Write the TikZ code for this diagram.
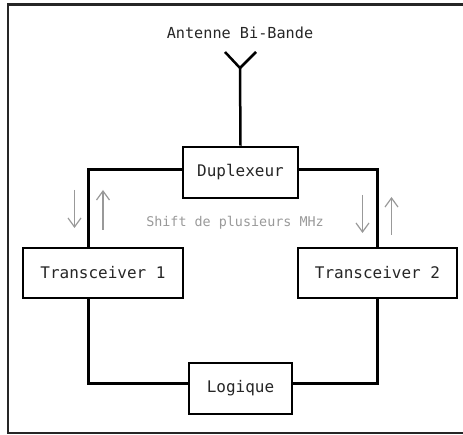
\documentclass[tikz,border=0pt]{standalone}
\usepackage{fontspec}
\setmainfont{DejaVu Sans Mono}
\usetikzlibrary{arrows.meta}
\definecolor{arrgray}{gray}{0.6}
\tikzset{
  blk/.style={draw=black, line width=2.8pt, fill=white, inner sep=0pt, font=\fontsize{16}{18}\selectfont, text=black!85},
  wire/.style={draw=black, line width=2.5pt},
  sigarrow/.style={draw=arrgray, line width=1.2pt, -{Straight Barb[length=9pt,width=13pt,line width=1.2pt]}},
  frame/.style={draw=black!85, line width=2.2pt}
}
\begin{document}
\begin{tikzpicture}[x=1pt,y=-1pt]
\useasboundingbox (0,0) rectangle (463,435);
% frame
\coordinate (f1) at (470,4.5);
\coordinate (f2) at (8,4.5);
\coordinate (f3) at (8,433);
\coordinate (f4) at (470,433);
\draw[frame] (f1) -- (f2) -- (f3) -- (f4);

% title
\node[font=\fontsize{15.2}{17}\selectfont, text=black!85] (title) at (240,33) {Antenne Bi-Bande};

% antenna
\coordinate (ant) at (240,68);
\coordinate (armL) at (225,52);
\coordinate (armR) at (256,52);

% blocks
\node[blk, minimum width=115pt, minimum height=51pt] (dup) at (240.5,172.5) {Duplexeur};
\node[blk, minimum width=160pt, minimum height=50pt] (t1) at (103,273) {Transceiver 1};
\node[blk, minimum width=159pt, minimum height=50pt] (t2) at (377.5,273) {Transceiver 2};
\node[blk, minimum width=103pt, minimum height=51pt] (log) at (240.5,388.5) {Logique};

% wires
\draw[wire] (armL) -- (ant) -- (armR);
\draw[wire] (ant) -- (dup.north);
\draw[wire] ([yshift=3pt]dup.west) -| ([xshift=-14.5pt]t1.north);
\draw[wire] ([yshift=3pt]dup.east) -| (t2.north);
\draw[wire] ([xshift=-14.5pt]t1.south) |- ([yshift=5pt]log.west);
\draw[wire] (t2.south) |- ([yshift=5pt]log.east);

% signal arrows
\coordinate (a1s) at (74.5,190);
\coordinate (a1e) at (74.5,228);
\coordinate (a2s) at (103,230);
\coordinate (a2e) at (103,190);
\coordinate (a3s) at (362.5,195);
\coordinate (a3e) at (362.5,233);
\coordinate (a4s) at (391.5,235);
\coordinate (a4e) at (391.5,197);
\draw[sigarrow] (a1s) -- (a1e);
\draw[sigarrow] (a2s) -- (a2e);
\draw[sigarrow] (a3s) -- (a3e);
\draw[sigarrow] (a4s) -- (a4e);

\node[font=\fontsize{13.4}{15}\selectfont, text=arrgray] (shift) at (235,223) {Shift de plusieurs MHz};
\end{tikzpicture}
\end{document}
